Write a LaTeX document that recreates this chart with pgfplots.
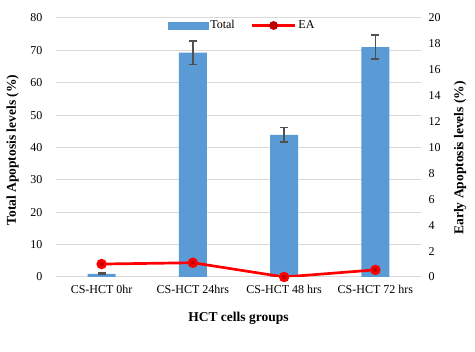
\documentclass[border=0pt]{standalone}
\usepackage{fontspec}
\setmainfont{Liberation Serif}
\usepackage{pgfplots}
\pgfplotsset{compat=1.18}
\definecolor{barblue}{HTML}{5B9BD5}
\definecolor{eared}{HTML}{FF0000}
\definecolor{eamark}{HTML}{C00000}
\definecolor{errgray}{HTML}{505050}
\definecolor{gridgray}{HTML}{D9D9D9}
\begin{document}
\begin{tikzpicture}
\path[use as bounding box] (-56pt,-75pt) rectangle (419pt,277pt);
\begin{axis}[
  at={(0,0)}, anchor=south west,
  scale only axis, width=365pt, height=259pt,
  xmin=-0.5, xmax=3.5, ymin=0, ymax=80,
  ytick={0,10,...,80},
  xtick={0,1,2,3},
  xticklabels={CS-HCT 0hr, CS-HCT 24hrs, CS-HCT 48 hrs, CS-HCT 72 hrs},
  axis y line*=left, axis x line*=bottom,
  axis line style={draw=none},
  ymajorgrids, grid style={draw=gridgray, line width=1pt},
  major tick length=0pt,
  tick label style={font=\fontsize{12}{14}\selectfont},
  /pgf/number format/assume math mode=true,
  xticklabel shift=5pt,
  yticklabel shift=10pt,
  xlabel={\textbf{HCT cells groups}},
  ylabel={\textbf{Total Apoptosis levels (\%)}},
  every axis y label/.style={at={(axis description cs:-0.119,0.49)}, rotate=90, anchor=center, font=\fontsize{13.5}{15}\selectfont},
  every axis x label/.style={at={(axis description cs:0.5,-0.158)}, anchor=center, font=\fontsize{13.5}{15}\selectfont},
]
\addplot[ybar, bar width=28pt, fill=barblue, draw=none,
  error bars/.cd, y dir=both, y explicit,
  error bar style={errgray, line width=1.5pt},
  error mark options={errgray, line width=1.5pt, mark size=4pt, rotate=90}]
coordinates {
  (0,1.0) +- (0,0.3)
  (1,69.3) +- (0,3.6)
  (2,43.9) +- (0,2.2)
  (3,71.0) +- (0,3.7)
};
\end{axis}
\begin{axis}[
  at={(0,0)}, anchor=south west,
  scale only axis, width=365pt, height=259pt,
  xmin=-0.5, xmax=3.5, ymin=0, ymax=20,
  ytick={0,2,...,20},
  axis y line*=right, axis x line=none,
  axis line style={draw=none},
  major tick length=0pt,
  tick label style={font=\fontsize{12}{14}\selectfont},
  /pgf/number format/assume math mode=true,
  yticklabel shift=4pt,
  ylabel={\textbf{Early Apoptosis levels (\%)}},
  every axis y label/.style={at={(axis description cs:1.107,0.46)}, rotate=90, anchor=center, font=\fontsize{13.5}{15}\selectfont},
  legend style={draw=none, fill=none, at={(axis description cs:0.51,0.971)}, anchor=center,
    font=\fontsize{12}{14}\selectfont, legend columns=2,
    /tikz/every even column/.append style={column sep=14pt}},
  legend cell align=left,
]
\addlegendimage{legend image code/.code={\fill[barblue] (0pt,-3.5pt) rectangle (40pt,3.5pt);}}
\addlegendentry{Total}
\addplot[eared, line width=2.7pt, mark=*, mark size=3.8pt,
  mark options={fill=eamark, draw=none},
  legend image code/.code={\draw[eared, line width=2.7pt] (0pt,0pt) -- (43pt,0pt); \fill[eamark] (21.5pt,0pt) circle (3pt);}]
coordinates {(0,1.0) (1,1.1) (2,0.0) (3,0.55)};
\addlegendentry{EA}
\end{axis}
\end{tikzpicture}
\end{document}
